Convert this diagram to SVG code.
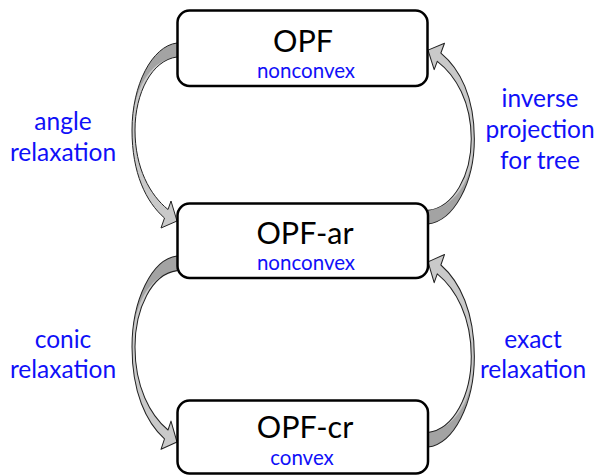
<svg xmlns="http://www.w3.org/2000/svg" width="597" height="475" viewBox="0 0 597 475">
<style>
.box{fill:#fff;stroke:#000;stroke-width:2.5}
.title{font-family:Lato,"Open Sans","DejaVu Sans",sans-serif;font-size:30.5px;fill:#000;text-anchor:middle}
.sub{font-family:Lato,"Open Sans","DejaVu Sans",sans-serif;font-size:20.5px;fill:#1010f8;text-anchor:middle}
.lbl{font-family:Lato,"Open Sans","DejaVu Sans",sans-serif;font-size:24.5px;fill:#1010f8;text-anchor:middle}
.body{fill:#c9c9c9;stroke:none}
.back{fill:#a3a3a3;stroke:none}
.edge{fill:none;stroke:#222;stroke-width:1;stroke-linejoin:round}
</style>
<defs>
<g id="carrow">
<path class="body" d="M0,0 C-25,3 -45,42 -45,87 C-45,130 -31,159 -12.5,175 L-16,185 L0,178 L-6,158 L-9,166.5 C-27,152 -42,125 -42,87 C-42,50 -25,17 0,14 Z"/>
<path class="back" d="M0,0 C-23,3 -41,36 -43.5,72 C-41,42 -24,16 0,14 Z"/>
<path class="edge" d="M0,0 C-25,3 -45,42 -45,87 C-45,130 -31,159 -12.5,175 L-16,185 L0,178 L-6,158 L-9,166.5 C-27,152 -42,125 -42,87 C-42,50 -25,17 0,14"/>
</g>
</defs>
<g id="connectors">
<use href="#carrow" transform="translate(177,43)"/>
<use href="#carrow" transform="translate(177,256) scale(1,1.045)"/>
<use href="#carrow" transform="translate(428,224) scale(-1.03,-0.977)"/>
<use href="#carrow" transform="translate(428,447) scale(-1.03,-1.04)"/>
</g>
<g id="opf">
<rect class="box" x="177.5" y="10.5" width="250" height="75.5" rx="12"/>
<text class="title" x="303" y="51.5">OPF</text>
<text class="sub" x="306" y="77.5">nonconvex</text>
</g>
<g id="opf-ar">
<rect class="box" x="177.5" y="203.5" width="250.5" height="74.5" rx="12"/>
<text class="title" x="305" y="243.5">OPF-ar</text>
<text class="sub" x="306" y="270">nonconvex</text>
</g>
<g id="opf-cr">
<rect class="box" x="177.5" y="400.5" width="250.5" height="73" rx="12"/>
<text class="title" x="305" y="438">OPF-cr</text>
<text class="sub" x="302" y="465">convex</text>
</g>
<g id="labels">
<text class="lbl" x="63" y="130">angle</text>
<text class="lbl" x="63" y="161">relaxation</text>
<text class="lbl" x="540" y="107">inverse</text>
<text class="lbl" x="540" y="138">projection</text>
<text class="lbl" x="540" y="169">for tree</text>
<text class="lbl" x="63" y="348">conic</text>
<text class="lbl" x="63" y="378">relaxation</text>
<text class="lbl" x="533" y="348">exact</text>
<text class="lbl" x="533" y="378">relaxation</text>
</g>
</svg>
